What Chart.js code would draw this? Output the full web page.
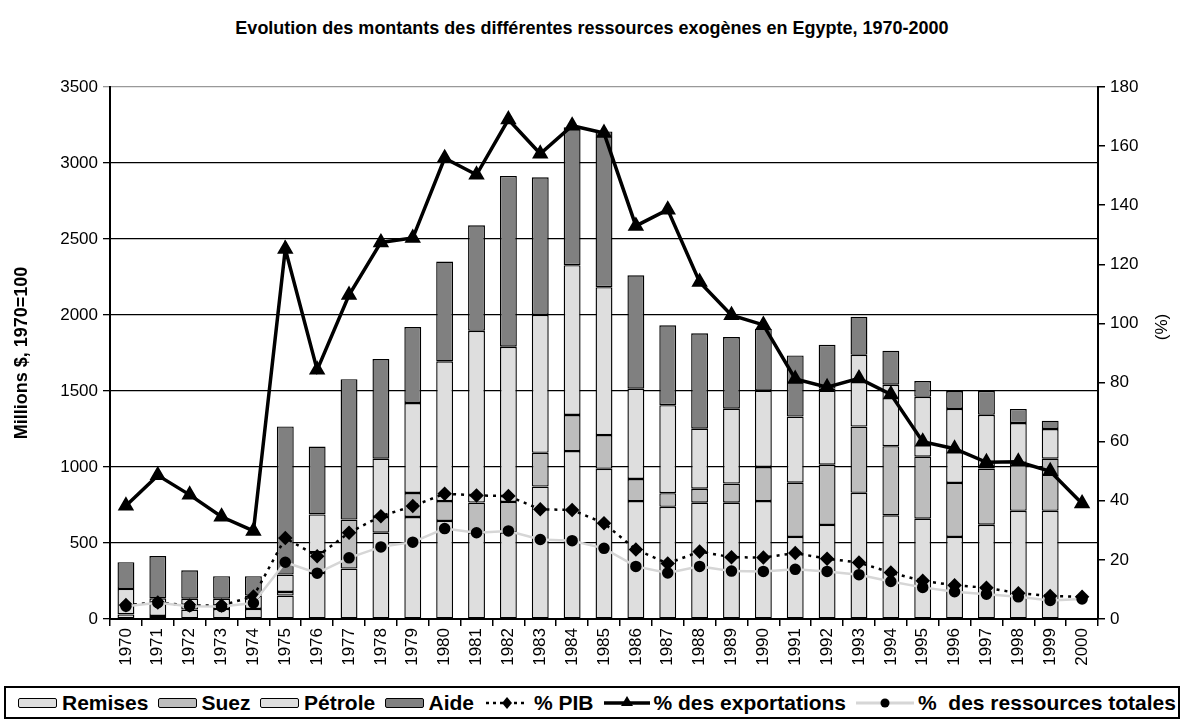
<!DOCTYPE html>
<html lang="fr">
<head>
<meta charset="utf-8">
<title>Ressources exogènes - Egypte 1970-2000</title>
<script src="https://cdn.jsdelivr.net/npm/chart.js@4.4.1/dist/chart.umd.min.js"></script>
<style>
  html, body { margin: 0; padding: 0; background: #fff; }
  body { width: 1184px; height: 722px; position: relative; overflow: hidden;
         font-family: "Liberation Sans", Arial, sans-serif; color: #000; }
  #titre { position: absolute; top: 18px; left: 0; width: 1184px; text-align: center;
           font-weight: bold; font-size: 18px; }
  #titreDroite { position: absolute; left: 1142px; top: 316px; width: 40px; height: 22px;
                 line-height: 22px; text-align: center; font-size: 17px; transform: rotate(-90deg); }
  #graphique { position: absolute; left: 0; top: 0; }
  #legende { position: absolute; left: 4px; top: 686px; width: 1176px; height: 33px;
             border: 2px solid #000; box-sizing: border-box; }
  .sym { position: absolute; top: 0; height: 29px; display: flex; align-items: center; }
  .txt { position: absolute; top: 0; height: 29px; line-height: 29px;
         font-weight: bold; font-size: 21px; white-space: pre; }
  .boite { display: inline-block; width: 37px; height: 8px; border: 1.5px solid #000;
           border-radius: 2px; }
</style>
</head>
<body>
<div id="titre">Evolution des montants des différentes ressources exogènes en Egypte, 1970-2000</div>
<canvas id="graphique" width="1184" height="680"></canvas>
<div id="titreDroite">(%)</div>
<div id="legende"></div>

<script>
// ====== DONNÉES ======

const annees = ['1970','1971','1972','1973','1974','1975','1976','1977','1978','1979',
                '1980','1981','1982','1983','1984','1985','1986','1987','1988','1989',
                '1990','1991','1992','1993','1994','1995','1996','1997','1998','1999','2000'];

// Millions $, 1970=100 (barres empilées) - null = pas de segment
const remises = [30, 20, 62, 66, 66, 154, 303, 332, 568, 671,
                 645, 570, 570, 871, 1105, 988, 776, 738, 765, 765,
                 776, 540, 619, 830, 682, 660, 540, 620, 712, 712, null];
const suez    = [null, null, null, null, null, 24, 137, 322, 103, 158,
                 131, 196, 200, 222, 237, 222, 145, 90, 92, 126,
                 224, 357, 396, 436, 455, 408, 355, 370, 315, 343, null];
const petrole = [168, 116, 72, 68, 88, 114, 248, null, 384, 592,
                 919, 1130, 1021, 908, 986, 973, 594, 579, 395, 493,
                 502, 435, 500, 472, 404, 394, 487, 353, 262, 195, null];
const aide    = [176, 278, 186, 148, 128, 975, 447, 924, 655, 500,
                 657, 694, 1124, 905, 908, 1025, 746, 525, 628, 471,
                 408, 402, 289, 251, 224, 103, 118, 158, 93, 55, null];

// (%) axe de droite
const pctPib          = [4.7, 5.6, 4.6, 4.6, 7.6, 27.4, 21.2, 29.2, 34.8, 38.2,
                         42.4, 41.8, 41.6, 37.1, 36.9, 32.4, 23.5, 18.8, 22.8, 20.9,
                         20.8, 22.3, 20.4, 19.1, 15.7, 12.9, 11.4, 10.6, 8.7, 7.8, 7.5];
const pctExportations = [38.3, 48.6, 42.0, 34.6, 29.8, 125.2, 84.3, 109.6, 127.4, 128.9,
                         155.9, 150.3, 169.0, 157.4, 166.9, 164.4, 133.0, 138.5, 114.0, 102.8,
                         99.5, 81.2, 78.4, 81.4, 76.0, 60.0, 57.6, 53.0, 53.2, 50.0, 39.1];
const pctRessources   = [4.3, 5.5, 4.3, 4.2, 5.4, 19.2, 15.5, 20.7, 24.4, 26.0,
                         30.6, 29.2, 29.8, 26.9, 26.5, 23.9, 17.8, 15.6, 17.8, 16.2,
                         16.1, 16.8, 16.1, 15.0, 12.7, 10.7, 9.2, 8.4, 7.5, 6.3, 6.8];

const ticksGauche = { min: 0, max: 3500, pas: 500 };
const ticksDroite = { min: 0, max: 180, pas: 20 };

// ====== COULEURS ======
const GRIS_CLAIR = '#dedede';
const GRIS_MOYEN = '#bdbdbd';
const GRIS_FONCE = '#808080';
const GRIS_LIGNE = '#d6d6d6';

const police = '"Liberation Sans", Arial, sans-serif';

function barre(label, data, couleur) {
    return {
        type: 'bar',
        label: label,
        data: data,
        yAxisID: 'y',
        stack: 'ressources',
        backgroundColor: couleur,
        borderColor: '#000',
        borderWidth: 1.4,
        borderSkipped: false,
        barPercentage: 0.53,
        categoryPercentage: 1,
        order: 2
    };
}

const datasets = [
    {
        type: 'line',
        label: '% des exportations',
        data: pctExportations,
        yAxisID: 'yPct',
        borderColor: '#000',
        borderWidth: 3.5,
        pointStyle: 'triangle',
        pointRadius: 6,
        pointBackgroundColor: '#000',
        pointBorderColor: '#000',
        fill: false,
        tension: 0,
        order: 0
    },
    {
        type: 'line',
        label: '%  des ressources totales',
        data: pctRessources,
        yAxisID: 'yPct',
        borderColor: GRIS_LIGNE,
        borderWidth: 2.5,
        pointStyle: 'circle',
        pointRadius: 4.5,
        pointBackgroundColor: '#000',
        pointBorderColor: '#000',
        fill: false,
        tension: 0,
        order: 0
    },
    {
        type: 'line',
        label: '% PIB',
        data: pctPib,
        yAxisID: 'yPct',
        borderColor: '#000',
        borderWidth: 2.5,
        borderDash: [3, 5],
        pointStyle: 'rectRot',
        pointRadius: 5.5,
        pointBackgroundColor: '#000',
        pointBorderColor: '#000',
        fill: false,
        tension: 0,
        order: 1
    },
    barre('Remises', remises, GRIS_CLAIR),
    barre('Suez', suez, GRIS_MOYEN),
    barre('Pétrole', petrole, GRIS_CLAIR),
    barre('Aide', aide, GRIS_FONCE)
];

new Chart(document.getElementById('graphique'), {
    data: { labels: annees, datasets: datasets },
    options: {
        responsive: false,
        animation: false,
        devicePixelRatio: 1,
        layout: { padding: { top: 87, left: 0, right: 0, bottom: 0 } },
        plugins: {
            legend: { display: false },
            tooltip: { enabled: false }
        },
        scales: {
            x: {
                stacked: true,
                offset: true,
                grid: { display: true, drawOnChartArea: false, offset: true, color: '#000', lineWidth: 1.5, tickLength: 7 },
                border: { color: '#000', width: 2 },
                ticks: { minRotation: 90, maxRotation: 90, autoSkip: false, color: '#000', padding: 2,
                         font: { family: police, size: 17 } },
                afterFit: s => { s.height = 61; }
            },
            y: {
                stacked: true,
                position: 'left',
                min: ticksGauche.min,
                max: ticksGauche.max,
                ticks: { stepSize: ticksGauche.pas, color: '#000', padding: 5,
                         font: { family: police, size: 17 },
                         callback: v => String(v) },
                grid: {
                    color: c => (c.tick && c.tick.value === ticksGauche.max) ? '#999' : '#000',
                    lineWidth: 1.3,
                    tickLength: 7
                },
                border: { color: '#000', width: 2 },
                title: { display: true, text: 'Millions $, 1970=100', color: '#000',
                         padding: { top: 11, bottom: 0 },
                         font: { family: police, size: 18, weight: 'bold' } },
                afterFit: s => { s.width = 110; }
            },
            yPct: {
                position: 'right',
                min: ticksDroite.min,
                max: ticksDroite.max,
                ticks: { stepSize: ticksDroite.pas, color: '#000', padding: 5,
                         font: { family: police, size: 17 },
                         callback: v => String(v) },
                grid: { drawOnChartArea: false, color: '#000', lineWidth: 1.5, tickLength: 7 },
                border: { color: '#000', width: 2 },
                afterFit: s => { s.width = 86; }
            }
        }
    }
});

// ====== LÉGENDE (boîte en bas) ======
function svgLigne(type) {
    let w = 46, trait = '', marque = '';
    if (type === 'pib') {
        trait = '<line x1="2" y1="9" x2="44" y2="9" stroke="#000" stroke-width="2.5" stroke-dasharray="3 4"/>';
        marque = '<polygon points="23,3 28,9 23,15 18,9" fill="#000"/>';
    } else if (type === 'exp') {
        trait = '<line x1="0" y1="9" x2="46" y2="9" stroke="#000" stroke-width="3.5"/>';
        marque = '<polygon points="23,2 29,12 17,12" fill="#000"/>';
    } else {
        w = 58;
        trait = '<line x1="0" y1="9" x2="58" y2="9" stroke="' + GRIS_LIGNE + '" stroke-width="3"/>';
        marque = '<circle cx="29" cy="9" r="4.5" fill="#000"/>';
    }
    return { w: w, html: '<svg width="' + w + '" height="18" viewBox="0 0 ' + w + ' 18">' + trait + marque + '</svg>' };
}

const itemsLegende = [
    { texte: 'Remises', boite: GRIS_CLAIR },
    { texte: 'Suez', boite: GRIS_MOYEN },
    { texte: 'Pétrole', boite: GRIS_CLAIR },
    { texte: 'Aide', boite: GRIS_FONCE },
    { texte: '% PIB', ligne: 'pib' },
    { texte: '% des exportations', ligne: 'exp' },
    { texte: '%  des ressources totales', ligne: 'res' }
];

const legende = document.getElementById('legende');
const placer = [];
itemsLegende.forEach(it => {
    const sym = document.createElement('div');
    sym.className = 'sym';
    let wSym = 40;
    if (it.boite) {
        sym.innerHTML = '<span class="boite" style="background:' + it.boite + '"></span>';
    } else {
        const s = svgLigne(it.ligne);
        sym.innerHTML = s.html;
        wSym = s.w;
    }
    const txt = document.createElement('div');
    txt.className = 'txt';
    txt.textContent = it.texte;
    legende.appendChild(sym);
    legende.appendChild(txt);
    placer.push({ sym: sym, txt: txt, wSym: wSym });
});

// répartir les éléments sur toute la largeur de la boîte
const debut = 12, fin = 1170, ecart = 4;
let total = 0;
placer.forEach(p => { p.wTxt = p.txt.offsetWidth; total += p.wSym + ecart + p.wTxt; });
const pasEntre = (fin - debut - total) / (placer.length - 1);
let x = debut;
placer.forEach(p => {
    p.sym.style.left = x + 'px';
    p.txt.style.left = (x + p.wSym + ecart) + 'px';
    x += p.wSym + ecart + p.wTxt + pasEntre;
});
</script>
</body>
</html>
